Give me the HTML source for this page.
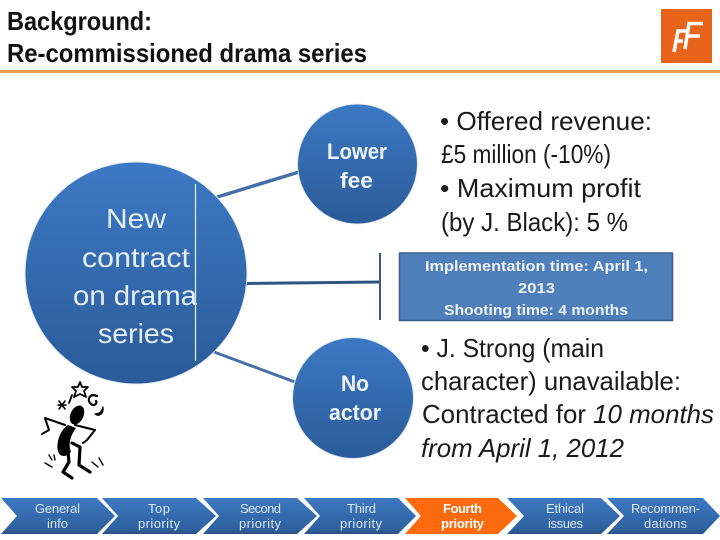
<!DOCTYPE html>
<html>
<head>
<meta charset="utf-8">
<style>
html,body{margin:0;padding:0;background:#fff;width:720px;height:540px;overflow:hidden}
svg{display:block}
text{font-family:"Liberation Sans",sans-serif}
.t{font-weight:bold;font-size:26px;fill:#111}
.b{font-size:26px;fill:#1a1a1a}
.c{font-size:28px;fill:#e6eef9}
.m{font-size:22px;font-weight:bold;fill:#eef3fb}
.x{font-size:15px;font-weight:bold;fill:#eef3fb}
.n{font-size:13px;fill:#dbe7f6}
</style>
</head>
<body>
<svg width="720" height="540" viewBox="0 0 720 540" xmlns="http://www.w3.org/2000/svg">
<defs>
<linearGradient id="g" x1="0" y1="0" x2="0" y2="1"><stop offset="0" stop-color="#3c79c4"/><stop offset="1" stop-color="#2b5b98"/></linearGradient>
<linearGradient id="nv" x1="0" y1="0" x2="0" y2="1"><stop offset="0" stop-color="#3d79c2"/><stop offset="0.85" stop-color="#2e619f"/><stop offset="1" stop-color="#2a5285"/></linearGradient>
</defs>
<rect width="720" height="540" fill="#fff"/>

<!-- Title -->
<text class="t" x="7" y="30" textLength="145" lengthAdjust="spacingAndGlyphs">Background:</text>
<text class="t" x="7" y="62" textLength="360" lengthAdjust="spacingAndGlyphs">Re-commissioned drama series</text>
<rect x="0" y="70" width="720" height="3" fill="#ea9f55"/>

<!-- Logo -->
<rect x="661" y="9" width="51" height="54" fill="#e8641b"/>
<path d="M674 52 L678 31 L689 31 M676 41 L683 41 M685 49 L689 23.500 L703 23.500 M687 36 L700 36" fill="none" stroke="#fff" stroke-width="3.500"/>

<!-- Connectors -->
<line x1="214" y1="198" x2="299" y2="172" stroke="#466ea8" stroke-width="3.500"/>
<line x1="240" y1="283.500" x2="380" y2="282" stroke="#2f5682" stroke-width="3"/>
<line x1="380" y1="253" x2="380" y2="320" stroke="#3a5a80" stroke-width="2"/>
<line x1="214" y1="352" x2="295" y2="382" stroke="#466ea8" stroke-width="3"/>

<!-- Circles -->
<circle cx="136" cy="273" r="111" fill="url(#g)" stroke="#dfeaf6" stroke-width="1"/>
<line x1="195.500" y1="184" x2="195.500" y2="361" stroke="#e6eef8" stroke-width="1.200"/>
<circle cx="357.500" cy="164" r="60" fill="url(#g)" stroke="#dfeaf6" stroke-width="1"/>
<circle cx="353" cy="398" r="60.500" fill="url(#g)" stroke="#dfeaf6" stroke-width="1"/>

<text class="c" x="106" y="228" textLength="60" lengthAdjust="spacingAndGlyphs">New</text>
<text class="c" x="82" y="267" textLength="108" lengthAdjust="spacingAndGlyphs">contract</text>
<text class="c" x="73" y="305" textLength="124" lengthAdjust="spacingAndGlyphs">on drama</text>
<text class="c" x="98" y="343" textLength="76" lengthAdjust="spacingAndGlyphs">series</text>

<text class="m" x="327" y="159" textLength="60" lengthAdjust="spacingAndGlyphs">Lower</text>
<text class="m" x="340" y="188" textLength="33" lengthAdjust="spacingAndGlyphs">fee</text>
<text class="m" x="341" y="391" textLength="28" lengthAdjust="spacingAndGlyphs">No</text>
<text class="m" x="329" y="420" textLength="52" lengthAdjust="spacingAndGlyphs">actor</text>

<!-- Right text -->
<text class="b" x="440" y="130" textLength="212" lengthAdjust="spacingAndGlyphs">• Offered revenue:</text>
<text class="b" x="441" y="163" textLength="170" lengthAdjust="spacingAndGlyphs">£5 million (-10%)</text>
<text class="b" x="440" y="197" textLength="201" lengthAdjust="spacingAndGlyphs">• Maximum profit</text>
<text class="b" x="441" y="231" textLength="187" lengthAdjust="spacingAndGlyphs">(by J. Black): 5 %</text>

<!-- Box -->
<rect x="399.500" y="253" width="273" height="67.500" fill="#4f7fbb" stroke="#385d8a" stroke-width="1.500"/>
<text class="x" x="425" y="271" textLength="223" lengthAdjust="spacingAndGlyphs">Implementation time: April 1,</text>
<text class="x" x="518" y="293" textLength="37" lengthAdjust="spacingAndGlyphs">2013</text>
<text class="x" x="444" y="315" textLength="184" lengthAdjust="spacingAndGlyphs">Shooting time: 4 months</text>

<text class="b" x="421" y="357" textLength="183" lengthAdjust="spacingAndGlyphs">• J. Strong (main</text>
<text class="b" x="421" y="390" textLength="260" lengthAdjust="spacingAndGlyphs">character) unavailable:</text>
<text class="b" x="422" y="423" textLength="292" lengthAdjust="spacingAndGlyphs">Contracted for <tspan font-style="italic">10 months</tspan></text>
<text class="b" x="421" y="457" font-style="italic" textLength="203" lengthAdjust="spacingAndGlyphs">from April 1, 2012</text>

<!-- Mascot -->
<g fill="#000" stroke="#000" stroke-linecap="round" stroke-linejoin="round">
<ellipse cx="77" cy="415" rx="6.500" ry="10" transform="rotate(25 77 415)" stroke="none"/>
<path d="M68 425 C59 431 56 445 58 451 C60 458 67 457 71 452 C68 445 70 436 76 428 Z" stroke="none"/>
<path d="M65 425 L45 418 L49 430 L42 434" fill="none" stroke-width="2"/>
<path d="M75 425 L95 430 L87 440 L83 443" fill="none" stroke-width="2"/>
<path d="M68 452 L69 462 L63 472 L72 478" fill="none" stroke-width="3.200"/>
<path d="M72 443 L80 447 L79 465 L90 472" fill="none" stroke-width="3.200"/>
<path d="M45 463 L52 467 M49 455 L52 460 M54 455 L55 460 M92 462 L98 467 M99 458 L103 465" fill="none" stroke-width="1.400"/>
<path d="M58 405 L66 405 M59 401 L65 409 M65 401 L59 409" fill="none" stroke-width="1.500"/>
<path d="M72 395 L69 403" fill="none" stroke-width="1.800"/>
<path d="M80 382 L82 387 L88 387 L84 391 L86 397 L80 394 L74 397 L76 391 L72 387 L78 387 Z" fill="#fff" stroke-width="1.800"/>
<path d="M97 396 C90 393 87 399 90 403 C93 407 98 404 96 401" fill="none" stroke-width="2.200"/>
<path d="M103 407 C102 412 99 414 95 414 C99 417 104 414 103 407 Z" stroke-width="1.200"/>
</g>

<!-- Nav -->
<path d="M1 498 H97 L115 516 L97 534 H1 L17 516 Z" fill="url(#nv)"/>
<path d="M102 498 H196 L216 516 L196 534 H102 L118 516 Z" fill="url(#nv)"/>
<path d="M203 498 H297 L317 516 L297 534 H203 L219 516 Z" fill="url(#nv)"/>
<path d="M304 498 H398 L416 516 L398 534 H304 L320 516 Z" fill="url(#nv)"/>
<path d="M405 498 H498 L517 516 L498 534 H405 L421 516 Z" fill="#fb6a0c"/>
<path d="M507 498 H601 L620 516 L601 534 H507 L524 516 Z" fill="url(#nv)"/>
<path d="M607 498 H703 L720 516 L703 534 H607 L624 516 Z" fill="url(#nv)"/>

<text class="n" x="35" y="513" textLength="45" lengthAdjust="spacing">General</text>
<text class="n" x="47" y="528" textLength="21" lengthAdjust="spacing">info</text>
<text class="n" x="148" y="513" textLength="22" lengthAdjust="spacing">Top</text>
<text class="n" x="138" y="528" textLength="42" lengthAdjust="spacing">priority</text>
<text class="n" x="240" y="513" textLength="41" lengthAdjust="spacing">Second</text>
<text class="n" x="239" y="528" textLength="42" lengthAdjust="spacing">priority</text>
<text class="n" x="347" y="513" textLength="29" lengthAdjust="spacing">Third</text>
<text class="n" x="340" y="528" textLength="42" lengthAdjust="spacing">priority</text>
<text class="n" x="443" y="513" textLength="39" lengthAdjust="spacing" font-weight="bold" style="fill:#fff">Fourth</text>
<text class="n" x="441" y="528" textLength="43" lengthAdjust="spacing" font-weight="bold" style="fill:#fff">priority</text>
<text class="n" x="546" y="513" textLength="38" lengthAdjust="spacing">Ethical</text>
<text class="n" x="548" y="528" textLength="35" lengthAdjust="spacing">issues</text>
<text class="n" x="631" y="513" textLength="69" lengthAdjust="spacing">Recommen-</text>
<text class="n" x="644" y="528" textLength="43" lengthAdjust="spacing">dations</text>
</svg>
</body>
</html>
